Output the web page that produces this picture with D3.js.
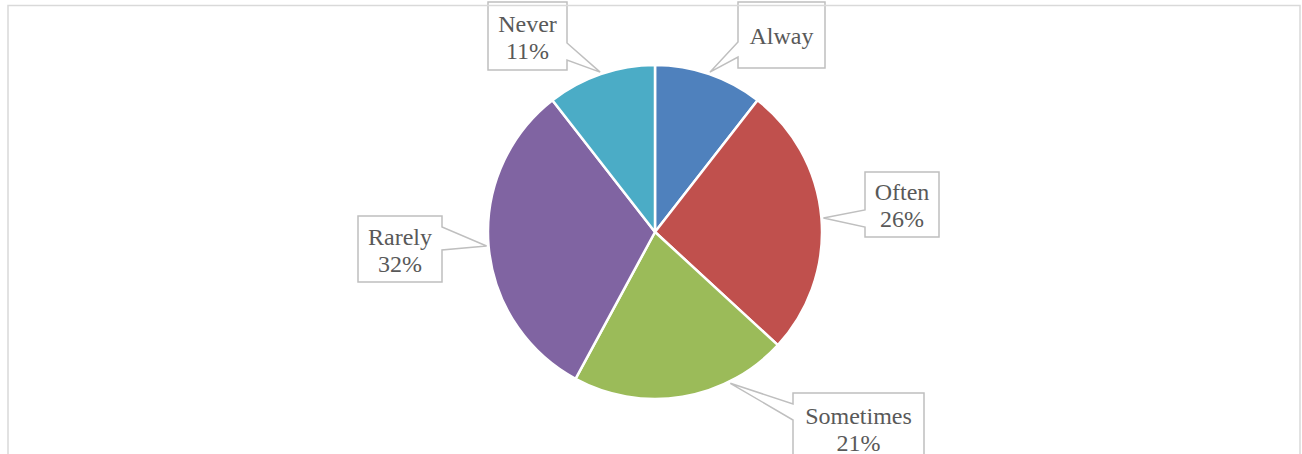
<!DOCTYPE html>
<html>
<head>
<meta charset="utf-8">
<script src="https://cdn.jsdelivr.net/npm/d3@7"></script>
<style>
  html, body { margin: 0; padding: 0; background: #ffffff; }
  svg { display: block; }
</style>
</head>
<body>
<svg id="chart" width="1302" height="454"></svg>
<script>
// Survey responses: how often, by answer
const categories = ["Alway", "Often", "Sometimes", "Rarely", "Never"];
const counts = [10, 25, 20, 30, 10];
const showPercent = [false, true, true, true, true];
const colors = ["#4f81bd", "#c0504d", "#9bbb59", "#8064a2", "#4bacc6"];

// Callout boxes: box rectangle, side the pointer leaves from, pointer base span,
// and an angle nudge (degrees) for where the pointer meets the pie edge.
const callouts = [
  { x: 738, y: 2,   w: 87,  h: 66, side: "left",  b0: 42,  b1: 57,  nudge: 0 },
  { x: 865, y: 172, w: 74,  h: 65, side: "left",  b0: 210, b1: 227, nudge: 0 },
  { x: 793, y: 393, w: 131, h: 70, side: "left",  b0: 404, b1: 420, nudge: -17 },
  { x: 358, y: 216, w: 84,  h: 66, side: "right", b0: 227, b1: 250, nudge: 0 },
  { x: 488, y: 2,   w: 79,  h: 68, side: "right", b0: 43,  b1: 60,  nudge: 0 }
];

const W = 1302, H = 454;
const cx = 655, cy = 232, R = 167;

const svg = d3.select("#chart");
const total = d3.sum(counts);
const data = categories.map((c, i) => ({ cat: c, value: counts[i], color: colors[i], i }));

const pie = d3.pie().value(d => d.value).sort(null);
const arcs = pie(data);
const arc = d3.arc().innerRadius(0).outerRadius(R);

const g = svg.append("g").attr("transform", `translate(${cx},${cy})`);
g.selectAll("path.slice")
  .data(arcs)
  .join("path")
  .attr("class", "slice")
  .attr("d", arc)
  .attr("fill", d => d.data.color)
  .attr("stroke", "#ffffff")
  .attr("stroke-width", 2.5)
  .attr("stroke-linejoin", "round");

// Callout labels
const fmt = d3.format(".0%");
const labels = svg.append("g");
arcs.forEach((a, i) => {
  const c = callouts[i];
  const mid = (a.startAngle + a.endAngle) / 2 + c.nudge * Math.PI / 180;
  const tr = R + 2;
  const tx = cx + tr * Math.sin(mid);
  const ty = cy - tr * Math.cos(mid);
  const x0 = c.x, x1 = c.x + c.w, y0 = c.y, y1 = c.y + c.h;
  let pts;
  if (c.side === "left") {
    pts = [[x0, y0], [x1, y0], [x1, y1], [x0, y1], [x0, c.b1], [tx, ty], [x0, c.b0]];
  } else {
    pts = [[x0, y0], [x1, y0], [x1, c.b0], [tx, ty], [x1, c.b1], [x1, y1], [x0, y1]];
  }
  labels.append("path")
    .attr("d", d3.line()(pts) + "Z")
    .attr("fill", "#ffffff")
    .attr("stroke", "#bfbfbf")
    .attr("stroke-width", 1.5)
    .attr("stroke-linejoin", "miter");

  const lines = [a.data.cat];
  if (showPercent[i]) lines.push(fmt(a.data.value / total));
  const lh = 27;
  const centerY = (y0 + y1) / 2;
  const firstY = centerY - (lines.length - 1) * lh / 2 + 9;
  const t = labels.append("text")
    .attr("text-anchor", "middle")
    .attr("font-family", "'Liberation Serif', 'DejaVu Serif', serif")
    .attr("font-size", 24)
    .attr("fill", "#595959");
  lines.forEach((s, k) => {
    t.append("tspan").attr("x", (x0 + x1) / 2).attr("y", firstY + k * lh).text(s);
  });
});

// Chart area frame
svg.append("path")
  .attr("d", `M8,${H + 5} L8,5.5 L1300,5.5 L1300,${H + 5}`)
  .attr("fill", "none")
  .attr("stroke", "#d9d9d9")
  .attr("stroke-width", 1.5);
</script>
</body>
</html>
